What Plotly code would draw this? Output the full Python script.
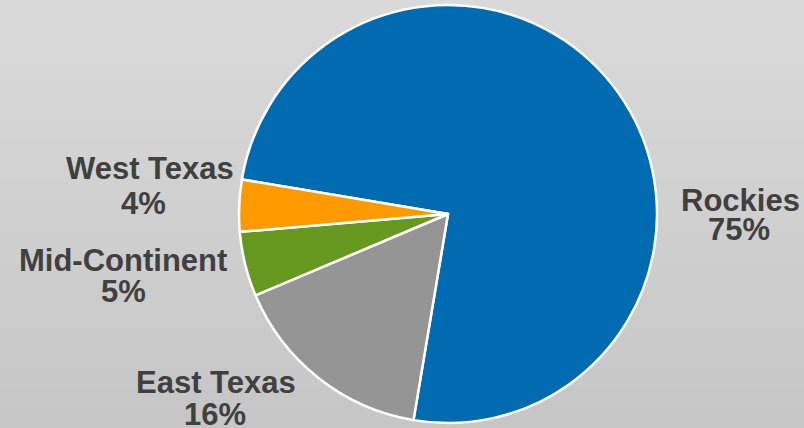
import plotly.graph_objects as go

regions = ["Rockies", "East Texas", "Mid-Continent", "West Texas"]
shares = [75, 16, 5, 4]
colors = ["#006BB0", "#959595", "#67981F", "#FF9900"]

W, H = 804, 428

# label centres in pixels: (name x, name y, pct x, pct y)
label_px = {
    "Rockies": (740, 200, 739, 229),
    "East Texas": (216, 382, 215, 414),
    "Mid-Continent": (123, 260, 123, 291),
    "West Texas": (150, 168, 143, 204),
}

fig = go.Figure()

fig.add_trace(go.Pie(
    labels=regions,
    values=shares,
    sort=False,
    direction="clockwise",
    rotation=279.5,
    marker=dict(colors=colors, line=dict(color="white", width=2.5)),
    textinfo="none",
    hoverinfo="label+percent",
    showlegend=False,
    domain=dict(x=[239 / W, 657 / W], y=[5 / H, 423 / H]),
))

# background vertical gradient
n = 43
top = (218, 218, 218)
bot = (198, 198, 198)
for i in range(n):
    t = i / (n - 1)
    c = tuple(round(top[k] + (bot[k] - top[k]) * t) for k in range(3))
    fig.add_shape(type="rect", xref="paper", yref="paper",
                  x0=0, x1=1, y0=1 - (i + 1) / n - 0.002, y1=1 - i / n,
                  fillcolor="rgb(%d,%d,%d)" % c, line=dict(width=0), layer="below")

font = dict(family="Liberation Sans, Arial, sans-serif", size=31, color="#404040")
for name, val in zip(regions, shares):
    nx, ny, px, py = label_px[name]
    for txt, x, y in ((name, nx, ny), ("%d%%" % val, px, py)):
        fig.add_annotation(
            x=x / W, y=1 - y / H, xref="paper", yref="paper", showarrow=False,
            text="<b>%s</b>" % txt, font=font,
            xanchor="center", yanchor="middle",
        )

fig.update_layout(
    width=W, height=H,
    margin=dict(l=0, r=0, t=0, b=0),
    paper_bgcolor="#d0d0d0",
)

fig.write_html(
    "out.html",
    config={"displayModeBar": False},
    post_script="document.body.style.margin='0';document.body.style.overflow='hidden';",
)
